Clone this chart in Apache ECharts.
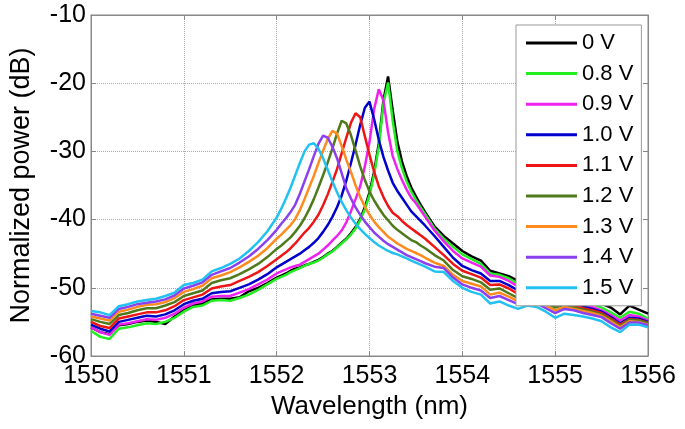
<!DOCTYPE html>
<html>
<head>
<meta charset="utf-8">
<script src="https://cdn.jsdelivr.net/npm/echarts@6/dist/echarts.min.js"></script>
<style>
  html, body { margin: 0; padding: 0; background: #fff; }
  #chart { width: 685px; height: 429px; }
</style>
</head>
<body>
<div id="chart"></div>
<script>
// wavelength samples (nm), denser around the resonances
var wavelength = [
  1550.0, 1550.1, 1550.2, 1550.3, 1550.4, 1550.5, 1550.6, 1550.7, 1550.8, 1550.9,
  1551.0, 1551.1, 1551.2, 1551.3, 1551.4, 1551.5, 1551.6, 1551.7, 1551.8, 1551.9, 1552.0,
  1552.05, 1552.1, 1552.15, 1552.2, 1552.25, 1552.3, 1552.35, 1552.4, 1552.45, 1552.5,
  1552.55, 1552.6, 1552.65, 1552.7, 1552.75, 1552.8, 1552.85, 1552.9, 1552.95, 1553.0,
  1553.05, 1553.1, 1553.15, 1553.2, 1553.25, 1553.3, 1553.35, 1553.4, 1553.45, 1553.5,
  1553.55, 1553.6,
  1553.7, 1553.8, 1553.9, 1554.0, 1554.1, 1554.2, 1554.3, 1554.4, 1554.5, 1554.6,
  1554.7, 1554.8, 1554.9, 1555.0, 1555.1, 1555.2, 1555.3, 1555.4, 1555.5, 1555.6,
  1555.7, 1555.8, 1555.9, 1556.0
];

// normalized power (dB), one array per bias voltage
var p0V = [
  -55.8, -56.5, -56.8, -55.5, -55.3, -55.0, -54.8, -55.0, -55.3, -54.2,
  -53.3, -52.6, -52.3, -51.7, -51.6, -51.6, -51.4, -50.5, -50.0, -49.3, -48.5,
  -48.2, -47.9, -47.5, -47.2, -47.0, -46.7, -46.5, -46.2, -45.9, -45.5,
  -45.0, -44.6, -44.0, -43.4, -42.8, -42.0, -41.1, -39.9, -38.2, -36.0,
  -33.0, -28.8, -22.5, -19.0, -24.0, -28.6, -31.5, -33.6, -35.3, -36.6,
  -37.8, -38.9,
  -41.0, -42.4, -43.5, -44.6, -45.4, -46.0, -47.5, -47.9, -48.3, -49.0,
  -49.3, -49.8, -50.2, -50.6, -50.9, -51.2, -51.6, -51.9, -52.3, -52.9,
  -53.9, -52.6, -53.2, -53.8
];
var p08V = [
  -56.3, -57.2, -57.5, -56.0, -55.8, -55.5, -55.2, -55.3, -55.0, -54.4,
  -53.5, -52.8, -52.6, -51.9, -51.8, -51.9, -51.5, -51.0, -50.3, -49.5, -48.7,
  -48.4, -48.1, -47.7, -47.4, -47.1, -46.8, -46.5, -46.3, -46.0, -45.6,
  -45.1, -44.7, -44.1, -43.5, -42.9, -42.2, -41.3, -40.1, -38.5, -36.4,
  -33.4, -29.3, -23.0, -19.9, -25.5, -30.0, -32.5, -34.4, -35.9, -37.1,
  -38.2, -39.2,
  -41.3, -42.8, -44.0, -45.1, -45.8, -46.5, -47.9, -48.1, -48.6, -49.4,
  -49.6, -50.1, -50.6, -51.3, -51.2, -51.6, -52.0, -52.4, -52.9, -53.6,
  -54.4, -53.5, -53.8, -54.5
];
var p09V = [
  -55.8, -56.5, -56.9, -55.4, -55.2, -54.9, -54.6, -54.7, -54.4, -53.8,
  -52.9, -52.3, -52.0, -51.3, -51.2, -51.2, -50.7, -50.2, -49.5, -48.8, -47.9,
  -47.6, -47.3, -47.0, -46.8, -46.6, -46.2, -45.8, -45.4, -45.0, -44.4,
  -43.8, -43.1, -42.4, -41.6, -40.4, -38.8, -37.0, -35.1, -32.2, -28.6,
  -23.8, -20.9, -22.5, -27.2, -30.7, -32.6, -34.2, -35.6, -36.8, -37.6,
  -38.6, -39.6,
  -41.6, -43.2, -44.6, -45.7, -46.3, -46.9, -48.2, -48.4, -49.0, -49.8,
  -49.9, -50.5, -51.0, -51.7, -51.6, -52.0, -52.4, -52.8, -53.3, -54.0,
  -54.8, -54.0, -54.2, -54.8
];
var p10V = [
  -55.4, -56.0, -56.4, -55.0, -54.7, -54.4, -54.1, -54.2, -53.9, -53.3,
  -52.4, -51.9, -51.6, -50.8, -50.6, -50.5, -50.0, -49.5, -48.8, -48.0, -47.0,
  -46.6, -46.2, -45.8, -45.4, -45.0, -44.5, -44.0, -43.4, -42.7, -41.8,
  -40.8, -39.6, -38.2, -36.5, -34.3, -31.7, -29.0, -26.1, -23.6, -22.7,
  -25.3, -28.3, -30.8, -32.8, -34.6, -35.8, -36.8, -37.8, -38.8, -39.5,
  -40.2, -40.9,
  -42.4, -44.0, -45.6, -46.8, -47.4, -47.9, -49.0, -49.0, -49.6, -50.4,
  -50.3, -50.9, -51.4, -52.1, -51.9, -52.3, -52.7, -53.1, -53.5, -54.3,
  -55.2, -54.4, -54.5, -55.0
];
var p11V = [
  -55.0, -55.6, -55.9, -54.5, -54.2, -53.9, -53.6, -53.6, -53.3, -52.7,
  -51.8, -51.4, -51.0, -50.1, -49.8, -49.6, -49.0, -48.4, -47.7, -46.8, -45.8,
  -45.3, -44.8, -44.2, -43.5, -42.7, -41.9, -41.2, -40.3, -39.3, -37.9,
  -36.3, -34.5, -32.6, -30.3, -28.0, -25.8, -24.4, -25.0, -27.8, -30.5,
  -33.0, -35.1, -36.7, -38.0, -39.0, -39.5, -40.2, -40.8, -41.3, -41.8,
  -42.3, -42.8,
  -44.0, -45.2, -46.5, -47.5, -48.0, -48.5, -49.6, -49.5, -50.1, -50.9,
  -50.7, -51.3, -51.8, -52.5, -52.2, -52.6, -53.0, -53.3, -53.7, -54.5,
  -55.4, -54.6, -54.7, -55.1
];
var p12V = [
  -54.6, -55.0, -55.3, -54.0, -53.7, -53.3, -53.0, -53.0, -52.6, -52.1,
  -51.2, -50.8, -50.4, -49.3, -48.9, -48.6, -48.0, -47.3, -46.5, -45.5, -44.3,
  -43.8, -43.2, -42.6, -41.8, -40.9, -39.8, -38.5, -37.0, -35.3, -33.5,
  -31.6, -29.6, -27.4, -25.5, -25.9, -27.6, -29.9, -32.2, -34.2, -35.9,
  -37.2, -38.3, -39.3, -40.1, -40.9, -41.5, -42.0, -42.5, -43.0, -43.3,
  -43.8, -44.2,
  -45.2, -46.0, -47.4, -48.3, -48.7, -49.2, -50.3, -50.1, -50.8, -51.5,
  -51.2, -51.7, -52.2, -52.9, -52.5, -52.9, -53.2, -53.5, -53.9, -54.7,
  -55.6, -54.7, -54.8, -55.2
];
var p13V = [
  -54.2, -54.5, -54.8, -53.5, -53.2, -52.8, -52.5, -52.4, -52.1, -51.5,
  -50.6, -50.2, -49.7, -48.6, -48.2, -47.7, -47.0, -46.2, -45.3, -44.2, -42.8,
  -42.2, -41.5, -40.8, -39.9, -38.6, -37.0, -35.3, -33.6, -31.7, -29.9,
  -28.2, -27.0, -27.4, -29.2, -31.2, -33.0, -35.0, -36.7, -38.1, -39.3,
  -40.3, -41.1, -41.8, -42.5, -43.0, -43.5, -43.9, -44.3, -44.6, -44.9,
  -45.2, -45.6,
  -46.3, -46.8, -48.1, -49.0, -49.4, -49.8, -51.0, -50.7, -51.3, -52.0,
  -51.6, -52.0, -52.6, -53.3, -52.8, -53.1, -53.4, -53.7, -54.1, -54.9,
  -55.8, -54.9, -55.0, -55.4
];
var p14V = [
  -53.8, -54.1, -54.4, -53.1, -52.8, -52.4, -52.2, -52.0, -51.7, -51.1,
  -50.1, -49.7, -49.2, -48.1, -47.6, -47.1, -46.3, -45.4, -44.3, -43.0, -41.5,
  -40.6, -39.8, -38.9, -37.8, -36.2, -34.4, -32.6, -30.7, -28.9, -27.7,
  -28.0, -29.3, -31.0, -33.2, -35.4, -36.9, -38.2, -39.3, -40.3, -41.1,
  -41.9, -42.5, -43.1, -43.6, -44.0, -44.4, -44.8, -45.2, -45.5, -45.8,
  -46.1, -46.4,
  -46.9, -47.1, -48.5, -49.5, -50.0, -50.4, -51.5, -51.2, -51.8, -52.4,
  -52.0, -52.3, -53.0, -53.7, -53.1, -53.3, -53.7, -54.0, -54.3, -55.2,
  -56.0, -55.1, -55.1, -55.5
];
var p15V = [
  -53.4, -53.6, -54.0, -52.7, -52.4, -52.0, -51.8, -51.6, -51.2, -50.7,
  -49.6, -49.3, -48.8, -47.6, -47.1, -46.5, -45.7, -44.6, -43.3, -41.7, -39.7,
  -38.4, -36.9, -35.3, -33.5, -31.7, -30.0, -29.0, -28.8, -29.6, -31.0,
  -32.7, -34.4, -36.0, -37.4, -38.6, -39.7, -40.6, -41.4, -42.1, -42.7,
  -43.3, -43.8, -44.2, -44.6, -44.9, -45.1, -45.4, -45.7, -46.0, -46.3,
  -46.6, -46.9,
  -47.6, -47.7, -49.0, -50.0, -50.6, -51.0, -52.3, -52.0, -52.6, -53.1,
  -52.6, -52.8, -53.5, -54.4, -53.8, -54.0, -54.2, -54.5, -54.9, -55.8,
  -56.5, -55.4, -55.4, -55.8
];

var seriesNames = ['0 V', '0.8 V', '0.9 V', '1.0 V', '1.1 V', '1.2 V', '1.3 V', '1.4 V', '1.5 V'];
var seriesValues = [p0V, p08V, p09V, p10V, p11V, p12V, p13V, p14V, p15V];
var lineColors = ['#000000', '#22ee22', '#ee22ee', '#0000cc', '#ee1515', '#4f7a1c', '#ff8a1e', '#8a40ee', '#22c2f0'];

var fontFam = 'Liberation Sans, Arial, Helvetica, sans-serif';

var chart = echarts.init(document.getElementById('chart'));

var series = seriesNames.map(function (name, i) {
  return {
    name: name,
    type: 'line',
    symbol: 'none',
    showSymbol: false,
    animation: false,
    data: wavelength.map(function (w, j) { return [w, seriesValues[i][j]]; }),
    lineStyle: { width: 2.5, color: lineColors[i] },
    itemStyle: { color: lineColors[i] }
  };
});

var option = {
  backgroundColor: '#fff',
  animation: false,
  grid: {
    left: 86, right: 37, top: 15, bottom: 73,
    show: true, borderColor: '#888', borderWidth: 1
  },
  legend: {
    data: seriesNames,
    orient: 'vertical',
    left: 516,
    top: 25,
    backgroundColor: '#fff',
    borderColor: '#999',
    borderWidth: 1,
    padding: [7, 8, 7, 10],
    icon: 'rect',
    itemWidth: 51,
    itemHeight: 3,
    itemGap: 8.6,
    textStyle: { fontSize: 22, color: '#000', fontFamily: fontFam }
  },
  xAxis: [
    {
      type: 'value',
      min: 1550, max: 1556, interval: 1,
      name: 'Wavelength (nm)',
      nameLocation: 'middle',
      nameGap: 37,
      nameTextStyle: { fontSize: 26, color: '#000', fontFamily: fontFam },
      axisLine: { show: true, lineStyle: { color: '#888' } },
      axisTick: { show: true, inside: true, length: 5, lineStyle: { color: '#888' } },
      axisLabel: {
        fontSize: 25, color: '#000', margin: 8, fontFamily: fontFam,
        formatter: function (v) { return String(v); }
      },
      splitLine: { show: true, lineStyle: { type: 'dotted', color: '#aaa' } }
    },
    {
      type: 'value', position: 'top',
      min: 1550, max: 1556, interval: 1,
      axisLine: { show: true, lineStyle: { color: '#888' } },
      axisTick: { show: true, inside: true, length: 5, lineStyle: { color: '#888' } },
      axisLabel: { show: false },
      splitLine: { show: false }
    }
  ],
  yAxis: [
    {
      type: 'value',
      min: -60, max: -10, interval: 10,
      name: 'Normalized power (dB)',
      nameLocation: 'middle',
      nameGap: 56,
      nameTextStyle: { fontSize: 27, color: '#000', fontFamily: fontFam },
      axisLine: { show: true, lineStyle: { color: '#888' } },
      axisTick: { show: true, inside: true, length: 5, lineStyle: { color: '#888' } },
      axisLabel: { fontSize: 25, color: '#000', margin: 5, fontFamily: fontFam },
      splitLine: { show: true, lineStyle: { type: 'dotted', color: '#aaa' } }
    },
    {
      type: 'value', position: 'right',
      min: -60, max: -10, interval: 10,
      axisLine: { show: true, lineStyle: { color: '#888' } },
      axisTick: { show: true, inside: true, length: 5, lineStyle: { color: '#888' } },
      axisLabel: { show: false },
      splitLine: { show: false }
    }
  ],
  series: series
};

option && chart.setOption(option);
</script>
</body>
</html>
